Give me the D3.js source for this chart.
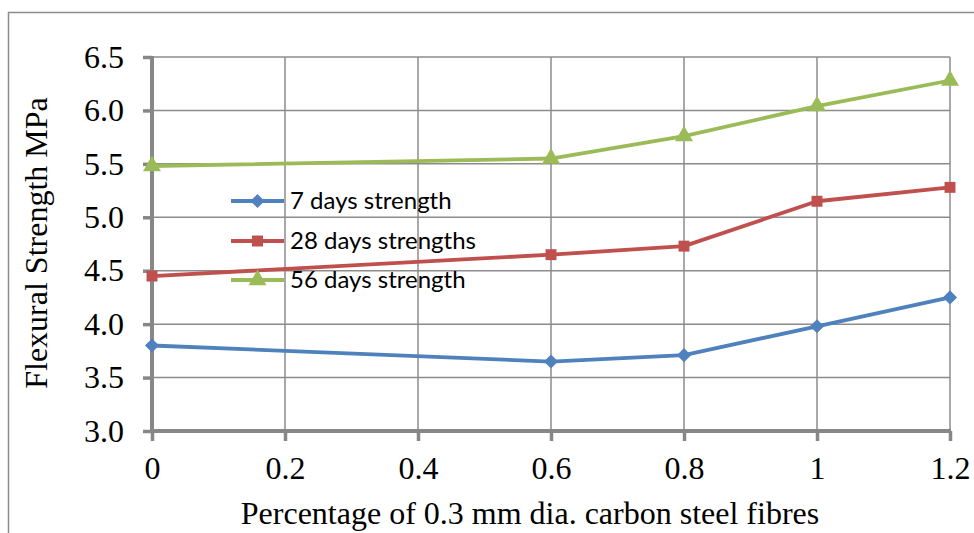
<!DOCTYPE html>
<html>
<head>
<meta charset="utf-8">
<script src="https://cdn.jsdelivr.net/npm/d3@7"></script>
<style>
  body { margin: 0; background: #fff; }
  svg { display: block; }
</style>
</head>
<body>
<svg id="chart" width="974" height="533"></svg>
<script>
// fibre content (%)
const fibres = [0, 0.6, 0.8, 1, 1.2];
const days7 = [3.80, 3.65, 3.71, 3.98, 4.25];
const days28 = [4.45, 4.65, 4.73, 5.15, 5.28];
const days56 = [5.48, 5.55, 5.76, 6.04, 6.28];
const seriesNames = ["7 days strength", "28 days strengths", "56 days strength"];
const xTicks = [0, 0.2, 0.4, 0.6, 0.8, 1, 1.2];
const yTicks = [3.0, 3.5, 4.0, 4.5, 5.0, 5.5, 6.0, 6.5];

const svg = d3.select("#chart");
const margin = {left: 152, top: 57, right: 24, bottom: 102};
const W = 974, H = 533;
const serif = "'Liberation Serif', 'Times New Roman', serif";

// outer chart frame (cut off at right/bottom)
svg.append("rect")
  .attr("x", 8.5).attr("y", 12.5)
  .attr("width", 1000).attr("height", 600)
  .attr("fill", "none")
  .attr("stroke", "#8c8c8c")
  .attr("stroke-width", 1.5);

const x = d3.scaleLinear().domain([0, 1.2]).range([margin.left, W - margin.right]);
const y = d3.scaleLinear().domain([3.0, 6.5]).range([H - margin.bottom, margin.top]);

const grid = svg.append("g");
grid.selectAll(".hgrid")
  .data(yTicks.slice(1))
  .enter().append("line")
  .attr("x1", x(0)).attr("x2", x(1.2))
  .attr("y1", d => y(d)).attr("y2", d => y(d))
  .attr("stroke", "#8c8c8c").attr("stroke-width", 1.5);
grid.selectAll(".vgrid")
  .data(xTicks.slice(1))
  .enter().append("line")
  .attr("x1", d => x(d)).attr("x2", d => x(d))
  .attr("y1", y(3.0)).attr("y2", y(6.5))
  .attr("stroke", "#8c8c8c").attr("stroke-width", 1.5);

// axes
const yAxis = d3.axisLeft(y).tickValues(yTicks).tickFormat(d3.format(".1f")).tickSize(9).tickPadding(19);
const xAxis = d3.axisBottom(x).tickValues(xTicks).tickFormat(d => d3.format("")(d)).tickSize(10).tickPadding(15);

const gy = svg.append("g").attr("transform", `translate(${x(0)},0)`).call(yAxis);
const gx = svg.append("g").attr("transform", `translate(0,${y(3.0)})`).call(xAxis);

[gx, gy].forEach(g => {
  g.select(".domain").remove();
  g.selectAll(".tick line").attr("stroke", "#878787").attr("stroke-width", 3.5);
  g.selectAll(".tick text")
    .attr("fill", "#000")
    .style("font-family", serif)
    .style("font-size", "32px");
});
svg.append("line")
  .attr("x1", x(0)).attr("x2", x(0))
  .attr("y1", y(6.5) - 1).attr("y2", y(3.0) + 2)
  .attr("stroke", "#878787").attr("stroke-width", 4);
svg.append("line")
  .attr("x1", x(0) - 2).attr("x2", x(1.2) + 1)
  .attr("y1", y(3.0)).attr("y2", y(3.0))
  .attr("stroke", "#878787").attr("stroke-width", 4);

// axis titles
svg.append("text")
  .attr("x", 530)
  .attr("y", 524)
  .attr("text-anchor", "middle")
  .style("font-family", serif)
  .style("font-size", "32px")
  .text("Percentage of 0.3 mm dia. carbon steel fibres");

svg.append("text")
  .attr("transform", `translate(47,${243}) rotate(-90)`)
  .attr("text-anchor", "middle")
  .style("font-family", serif)
  .style("font-size", "32px")
  .text("Flexural Strength MPa");

// series
const colors = ["#4f81bd", "#c0504d", "#9bbb59"];
const symbols = [d3.symbolSquare, d3.symbolSquare, d3.symbolTriangle];
const symSizes = [100, 120, 140];
const symRotate = [45, 0, 0];
const allSeries = [days7, days28, days56];

const line = d3.line().x((d, i) => x(fibres[i])).y(d => y(d));

allSeries.forEach((vals, s) => {
  svg.append("path")
    .datum(vals)
    .attr("d", line)
    .attr("fill", "none")
    .attr("stroke", colors[s])
    .attr("stroke-width", 3.8)
    .attr("stroke-linejoin", "round");
  svg.selectAll(".pt" + s)
    .data(vals)
    .enter().append("path")
    .attr("d", d3.symbol().type(symbols[s]).size(symSizes[s]))
    .attr("transform", (d, i) => `translate(${x(fibres[i])},${y(d)}) rotate(${symRotate[s]})`)
    .attr("fill", colors[s]);
});

// legend
const legend = svg.append("g");
const legendY = [201, 241, 280];
seriesNames.forEach((name, s) => {
  const g = legend.append("g").attr("transform", `translate(0,${legendY[s]})`);
  g.append("line")
    .attr("x1", 231).attr("x2", 284)
    .attr("stroke", colors[s]).attr("stroke-width", 3.8);
  g.append("path")
    .attr("d", d3.symbol().type(symbols[s]).size(symSizes[s]))
    .attr("transform", `translate(257.5,0) rotate(${symRotate[s]})`)
    .attr("fill", colors[s]);
  g.append("text")
    .attr("x", 290).attr("y", 8)
    .style("font-family", "Lato, 'Open Sans', sans-serif")
    .style("font-size", "24px")
    .text(name);
});
</script>
</body>
</html>
